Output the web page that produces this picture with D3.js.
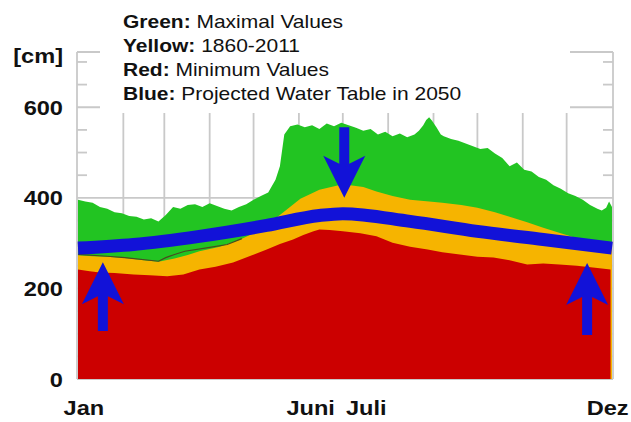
<!DOCTYPE html>
<html>
<head>
<meta charset="utf-8">
<script src="https://cdn.jsdelivr.net/npm/d3@7"></script>
<style>
  html, body { margin: 0; padding: 0; background: #fff; }
  svg { display: block; }
  text { font-family: "Liberation Sans", Arial, Helvetica, sans-serif; }
</style>
</head>
<body>
<svg id="chart" width="631" height="422"></svg>
<script>
// ---------- DATA ----------
// day of year (0..365) and water level [cm]
const greenDays  = [0,5,10,15,20,25,30,35,40,45,50,55,60,65,70,75,80,85,90,95,100,105,110,115,120,125,130,135,138,141,145,150,155,160,165,170,175,180,185,190,195,200,205,210,215,220,225,230,233,236,238,240,242,245,248,250,255,260,265,270,275,280,285,290,295,300,305,310,315,320,325,330,335,340,345,350,355,358,361,363,365];
const greenVals  = [396,392,389,380,376,368,366,360,358,352,355,348,362,380,376,384,386,380,388,382,376,372,380,386,396,404,412,440,470,540,558,562,556,560,552,564,558,566,560,555,548,552,540,546,536,542,534,540,548,560,572,578,570,556,540,536,530,526,520,514,508,510,498,488,470,478,462,458,446,440,428,420,410,404,396,384,376,372,378,392,380];

const yellowDays = [0,10,20,32,45,55,60,66,75,83,97,111,124,138,152,165,181,195,204,215,227,240,249,262,273,285,295,307,318,330,340,352,365];
const yellowVals = [273,271,270,267,262,259,262,266,274,282,292,308,328,362,398,418,430,424,414,404,396,392,389,384,378,368,358,346,334,322,312,303,296];

const redDays = [0,8,15,25,38,49,61,72,83,94,106,118,129,138,147,154,161,165,172,181,193,204,215,227,239,249,261,273,284,295,307,318,329,341,352,364];
const redVals = [242,238,235,234,231,229,227,231,242,248,257,272,286,298,308,318,326,330,329,326,322,315,301,292,286,280,275,270,268,262,253,255,253,250,246,242];

const blueDays = [0,38,83,129,165,181,227,273,318,365];
const blueVals = [289,297,315,339,361,365,348,326,308,289];

const traceDays = [0,20,32,55,60,66,73,89,102,112];
const traceVals = [275,271,268,260,268,275,282,290,297,310];

const monthStarts = [31,59,90,120,151,181,212,243,273,304,334];
const yTicksMajor = [0,200,400,600];
const yTicksMinor = [50,100,150,250,300,350,450,500,550,650,700];
const xLabels = [{t:"Jan", d:4}, {t:"Juni", d:159}, {t:"Juli", d:197}, {t:"Dez", d:362}];
const arrows = [{d:17, from:106, to:258}, {d:348, from:97, to:256}, {d:182, from:556, to:400}];
const legendBold = ["Green:", "Yellow:", "Red:", "Blue:"];
const legendText = [" Maximal Values", " 1860-2011", " Minimum Values", " Projected Water Table in 2050"];

// ---------- CHART ----------
const svg = d3.select("#chart");
const X0 = 78, X1 = 612, Y0 = 379, Y1 = 52;
const x = d3.scaleLinear().domain([0,365]).range([X0, X1]);
const y = d3.scaleLinear().domain([0,722]).range([Y0, Y1]);
const SX = 1.18;
const gridCol = "#c9c9c9";

// gridlines
const grid = svg.append("g");
grid.selectAll(".vg").data(monthStarts).join("line")
  .attr("x1", d => x(d)).attr("x2", d => x(d)).attr("y1", Y1).attr("y2", Y0)
  .attr("stroke", gridCol).attr("stroke-width", 1.8);
grid.selectAll(".hg").data(yTicksMajor.concat([722])).join("line")
  .attr("x1", X0 - 1).attr("x2", X1 + 1).attr("y1", d => y(d)).attr("y2", d => y(d))
  .attr("stroke", gridCol).attr("stroke-width", 1.8);
grid.append("line").attr("x1", X0 - 1).attr("x2", X0 - 1).attr("y1", Y1).attr("y2", Y0)
  .attr("stroke", gridCol).attr("stroke-width", 1.8);
grid.append("line").attr("x1", X1 + 1).attr("x2", X1 + 1).attr("y1", Y1).attr("y2", Y0)
  .attr("stroke", gridCol).attr("stroke-width", 1.8);
grid.selectAll(".mtl").data(yTicksMinor).join("line")
  .attr("x1", X0 - 1).attr("x2", X0 + 9).attr("y1", d => y(d)).attr("y2", d => y(d))
  .attr("stroke", gridCol).attr("stroke-width", 1.8);
grid.selectAll(".mtr").data(yTicksMinor).join("line")
  .attr("x1", X1 - 9).attr("x2", X1 + 1).attr("y1", d => y(d)).attr("y2", d => y(d))
  .attr("stroke", gridCol).attr("stroke-width", 1.8);

// white legend panel
svg.append("rect").attr("x", 100).attr("y", 0).attr("width", 470).attr("height", 113).attr("fill", "#fff");

// areas
function area(days, vals, col) {
  const pts = days.map((d, i) => [d, vals[i]]);
  svg.append("path").datum(pts)
    .attr("fill", col)
    .attr("d", d3.area().x(p => x(p[0])).y0(y(0)).y1(p => y(p[1])));
}
area(greenDays, greenVals, "#22c422");
area(yellowDays, yellowVals, "#f6b400");
area(redDays, redVals, "#cc0000");

// historic trace line
svg.append("path").datum(traceDays.map((d, i) => [d, traceVals[i]]))
  .attr("fill", "none").attr("stroke", "#4a4a20").attr("stroke-width", 1.2)
  .attr("d", d3.line().x(p => x(p[0])).y(p => y(p[1])));

// projected blue line
const blueCol = "#1212d8";
svg.append("path").datum(blueDays.map((d, i) => [d, blueVals[i]]))
  .attr("fill", "none").attr("stroke", blueCol).attr("stroke-width", 13)
  .attr("d", d3.line().curve(d3.curveMonotoneX).x(p => x(p[0])).y(p => y(p[1])));

// arrows
arrows.forEach(a => {
  const cx = x(a.d), yt = y(a.to), yf = y(a.from);
  const dir = yf > yt ? 1 : -1; // 1 = pointing up
  const hl = 42, hw = 21, sw = 5, notch = 8;
  const yb = yt + dir * hl, yj = yt + dir * (hl - notch);
  const pts = [[cx, yt],[cx + hw, yb],[cx + sw, yj],[cx + sw, yf],[cx - sw, yf],[cx - sw, yj],[cx - hw, yb]];
  svg.append("polygon").attr("points", pts.map(p => p.join(",")).join(" ")).attr("fill", blueCol);
});

// y labels
function stext(xp, yp, str, size, weight, anchor) {
  return svg.append("text")
    .attr("transform", `translate(${xp},${yp}) scale(${SX},1)`)
    .attr("text-anchor", anchor).attr("font-size", size).attr("font-weight", weight)
    .attr("fill", "#111").text(str);
}
yTicksMajor.forEach(v => stext(63, y(v) + 7.5, String(v), 20, "bold", "end"));
stext(63, 63, "[cm]", 20, "bold", "end");
xLabels.forEach(l => stext(x(l.d), 415, l.t, 20, "bold", "middle"));

// legend
legendBold.forEach((b, i) => {
  const t = svg.append("text")
    .attr("transform", `translate(123,${27.5 + i * 24.2}) scale(1.2,1)`)
    .attr("font-size", 17.5).attr("fill", "#111");
  t.append("tspan").attr("font-weight", "bold").text(b);
  t.append("tspan").text(legendText[i]);
});
</script>
</body>
</html>
